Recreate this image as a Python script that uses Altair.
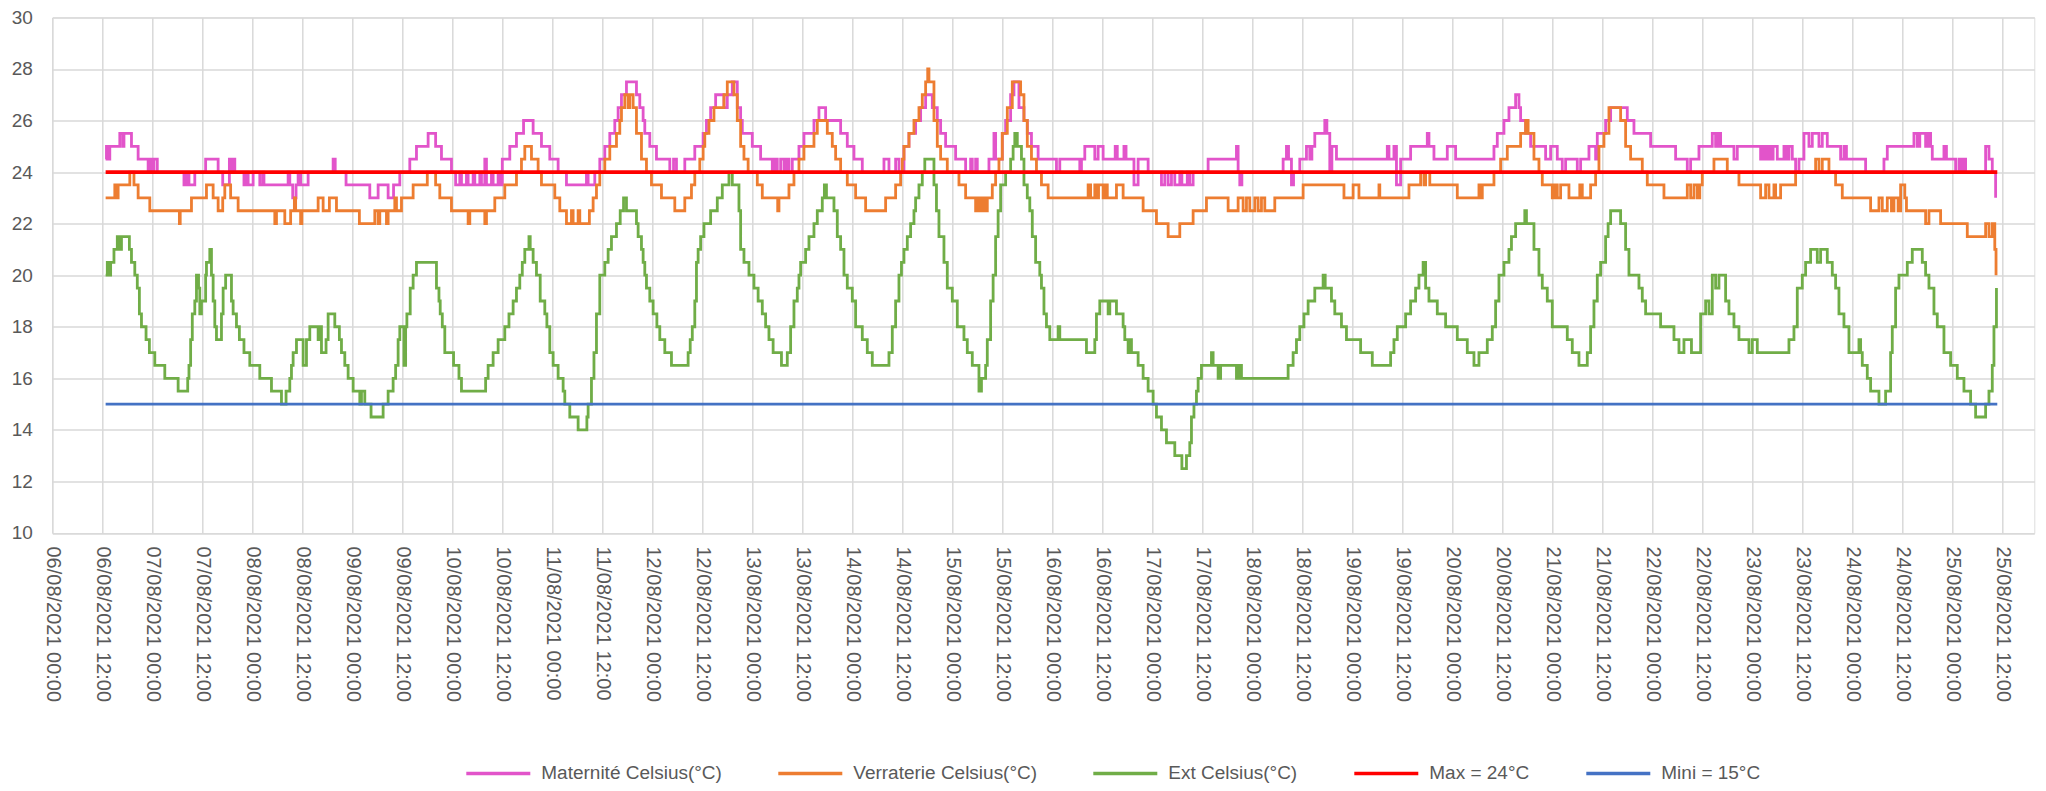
import altair as alt
import pandas as pd

# ---------------- data (hours after 06/08/2021 00:00, temperature °C) ----------------
SERIES = ["Maternité Celsius(°C)", "Verraterie Celsius(°C)", "Ext Celsius(°C)",
          "Max = 24°C", "Mini = 15°C"]
COLORS = ["#E254CA", "#ED7D31", "#70AD47", "#FF0000", "#4472C4"]
WIDTHS = [2.8, 2.8, 2.8, 3.6, 2.8]

MATERNITE = [
    (12.8, 24.5), (13.0, 25), (13.4, 24.5), (13.8, 25), (16.2, 25.5), (16.9, 25), (17.2, 25.5),
    (19.0, 25), (20.6, 24.5), (23.0, 24), (23.4, 24.5), (23.9, 24), (24.4, 24.5), (25.2, 24),
    (31.6, 23.5), (32.2, 24), (32.8, 23.5), (34.2, 24), (36.8, 24.5), (39.8, 24), (40.9, 23.5),
    (42.5, 24.5), (43.0, 24), (43.3, 24.5), (43.8, 24), (46.0, 23.5), (46.5, 24), (47.0, 23.5),
    (48.2, 24), (49.8, 23.5), (50.5, 24), (50.8, 23.5), (56.6, 24), (57.0, 23.5), (57.7, 23),
    (58.5, 23.5), (59.0, 24), (59.6, 23.5), (61.4, 24), (67.4, 24.5), (67.9, 24), (70.5, 23.5),
    (76.2, 23), (78.2, 23.5), (80.6, 23), (81.9, 23.5), (83.4, 24), (85.8, 24.5), (87.4, 25),
    (90.2, 25.5), (92.0, 25), (93.4, 24.5), (95.8, 24), (96.8, 23.5), (97.8, 24), (98.2, 23.5),
    (99.4, 24), (99.8, 23.5), (101.0, 24), (101.4, 23.5), (102.6, 24), (103.0, 23.5), (103.8, 24.5),
    (104.2, 23.5), (105.4, 24), (105.8, 23.5), (107.0, 24), (107.4, 23.5), (108.0, 24.5), (109.8, 25),
    (111.4, 25.5), (113.1, 26), (115.4, 25.5), (117.4, 25), (119.4, 24.5), (121.4, 24), (123.4, 23.5),
    (128.2, 24), (128.6, 23.5), (130.2, 24), (131.4, 24.5), (132.6, 25), (133.8, 25.5), (135.0, 26),
    (135.8, 26.5), (136.6, 27), (137.8, 27.5), (140.2, 27), (141.0, 26.5), (141.8, 26), (142.2, 25.5),
    (143.4, 25), (145.0, 24.5), (148.2, 24), (149.1, 24.5), (149.8, 24), (151.8, 24.5), (154.2, 25),
    (156.2, 25.5), (157.0, 26), (158.0, 26.5), (159.2, 27), (161.2, 26.5), (162.0, 27), (163.2, 27.5),
    (164.4, 26.5), (165.2, 26), (165.6, 25.5), (168.0, 25), (170.0, 24.5), (172.8, 24), (173.4, 24.5),
    (174.0, 24), (174.8, 24.5), (175.6, 24), (176.2, 24.5), (176.8, 24), (177.6, 24.5), (179.2, 25),
    (180.4, 25.5), (182.8, 26), (184.0, 26.5), (185.6, 26), (189.2, 25.5), (190.8, 25), (192.4, 24.5),
    (194.4, 24), (199.6, 24.5), (200.8, 24), (202.4, 24.5), (203.2, 24), (204.4, 25), (205.6, 25.5),
    (207.2, 26), (208.4, 26.5), (209.6, 27), (211.2, 26.5), (212.4, 26), (213.2, 25.5), (214.4, 25),
    (216.8, 24.5), (219.2, 24), (220.4, 24.5), (220.8, 24), (221.6, 24.5), (222.0, 24), (224.8, 24.5),
    (226.0, 25.5), (226.4, 24.5), (228.0, 25.5), (228.8, 26), (230.0, 27), (230.8, 27.5), (232.0, 26.5),
    (233.2, 26), (234.0, 25.5), (235.0, 25), (236.6, 24.5), (241.0, 24), (241.8, 24.5), (246.6, 24),
    (247.0, 24.5), (247.8, 25), (250.2, 24.5), (251.0, 25), (252.2, 24.5), (255.1, 25), (255.6, 24.5),
    (257.2, 25), (257.7, 24.5), (259.6, 23.5), (260.6, 24.5), (263.0, 24), (266.2, 23.5), (267.0, 24),
    (267.8, 23.5), (268.6, 24), (269.4, 23.5), (270.6, 24), (271.1, 23.5), (272.4, 24), (273.0, 23.5),
    (273.8, 24), (277.4, 24.5), (284.2, 25), (284.6, 24), (285.0, 23.5), (285.5, 24), (295.4, 24.5),
    (296.2, 25), (296.7, 24.5), (297.4, 23.5), (297.9, 24), (299.4, 24.5), (301.0, 25), (301.8, 24.5),
    (302.3, 25), (303.0, 25.5), (305.4, 26), (305.9, 25.5), (306.6, 24), (307.1, 25), (308.2, 24.5),
    (320.4, 25), (320.8, 24.5), (322.0, 25), (322.6, 23.5), (323.6, 24.5), (326.0, 25), (330.0, 25.5),
    (330.4, 25), (331.6, 24.5), (334.8, 25), (336.8, 24.5), (346.0, 25), (346.8, 25.5), (348.4, 26),
    (349.6, 26.5), (351.2, 27), (352.0, 26.5), (352.4, 26), (353.6, 25.5), (354.8, 25), (358.4, 24.5),
    (359.6, 25), (361.2, 24.5), (362.4, 24), (363.2, 24.5), (366.0, 24), (366.8, 24.5), (368.8, 25),
    (370.4, 24.5), (370.8, 25.5), (372.8, 26), (374.0, 26.5), (378.0, 26), (379.6, 25.5), (383.6, 25),
    (389.6, 24.5), (392.4, 24), (393.2, 24.5), (395.2, 25), (398.4, 25.5), (399.2, 25), (399.8, 25.5),
    (400.4, 25), (403.6, 24.5), (404.4, 25), (410.0, 24.5), (410.6, 25), (411.2, 24.5), (411.8, 25),
    (412.4, 24.5), (413.0, 25), (414.0, 24.5), (415.6, 25), (416.2, 24.5), (416.8, 25), (417.6, 24.5),
    (418.4, 24), (419.2, 24.5), (420.4, 25.5), (421.6, 25), (422.4, 25.5), (424.0, 25), (424.8, 25.5),
    (426.0, 25), (429.2, 24.5), (430.0, 25), (430.6, 24.5), (435.2, 24), (439.6, 24.5), (440.4, 25),
    (446.8, 25.5), (447.6, 25), (448.2, 25.5), (449.6, 25), (450.2, 25.5), (450.8, 25), (451.2, 24.5),
    (454.0, 25), (454.6, 24.5), (456.8, 24), (457.6, 24.5), (458.2, 24), (458.8, 24.5), (459.2, 24),
    (464.0, 25), (464.8, 24.5), (465.6, 24), (466.4, 23),
]

VERRATERIE = [
    (12.8, 23), (15.0, 23.5), (15.4, 23), (15.8, 23.5), (18.6, 24), (19.6, 23.5), (20.6, 23),
    (23.4, 22.5), (30.5, 22), (30.7, 22.5), (33.4, 23), (37.0, 23.5), (38.6, 23), (39.8, 22.5),
    (40.9, 23), (41.4, 23.5), (42.8, 23), (44.6, 22.5), (53.4, 22), (53.8, 22.5), (55.8, 22),
    (57.2, 22.5), (58.1, 23), (58.4, 22.5), (59.6, 22), (59.9, 22.5), (63.8, 23), (65.0, 22.5),
    (66.5, 23), (68.2, 22.5), (73.7, 22), (77.4, 22.5), (78.2, 22), (78.6, 22.5), (80.2, 22),
    (80.6, 22.5), (82.2, 23), (82.6, 22.5), (83.8, 23), (86.6, 23.5), (90.0, 24), (92.0, 23.5),
    (93.0, 23), (95.8, 22.5), (99.8, 22), (100.2, 22.5), (103.8, 22), (104.2, 22.5), (106.2, 23),
    (108.6, 23.5), (111.4, 24), (112.6, 24.5), (113.4, 25), (115.0, 24.5), (116.6, 24), (117.4, 23.5),
    (120.6, 23), (121.8, 22.5), (123.4, 22), (124.6, 22.5), (125.0, 22), (126.2, 22.5), (126.6, 22),
    (128.9, 22.5), (129.8, 23), (130.6, 23.5), (131.4, 24), (132.6, 24.5), (133.8, 25), (135.4, 25.5),
    (136.2, 26), (136.6, 26.5), (137.4, 27), (138.2, 26.5), (138.6, 27), (139.4, 26.5), (140.2, 25.5),
    (141.4, 24.5), (142.6, 24), (143.8, 23.5), (146.2, 23), (149.4, 22.5), (151.8, 23), (153.4, 23.5),
    (154.2, 24), (155.4, 24.5), (156.2, 25), (156.6, 25.5), (157.6, 26), (158.8, 26.5), (161.2, 27),
    (162.0, 27.5), (163.6, 27), (164.4, 26), (165.2, 25), (166.0, 24.5), (167.0, 24), (169.2, 23.5),
    (170.4, 23), (174.1, 22.5), (174.4, 23), (176.8, 23.5), (178.0, 24), (179.2, 24.5), (180.4, 25),
    (182.8, 25.5), (183.6, 26), (186.0, 25.5), (187.2, 25), (188.0, 24.5), (189.2, 24), (190.8, 23.5),
    (192.8, 23), (195.2, 22.5), (200.0, 23), (202.4, 23.5), (203.6, 24), (204.0, 24.5), (204.4, 25),
    (205.6, 25.5), (206.8, 26), (208.0, 26.5), (208.8, 27), (209.6, 27.5), (210.1, 28), (210.4, 27.5),
    (211.6, 26), (212.4, 25), (213.2, 24.5), (214.8, 24), (217.6, 23.5), (219.2, 23), (221.6, 22.5),
    (222.2, 23), (222.8, 22.5), (223.4, 23), (223.8, 22.5), (224.4, 23), (225.6, 23.5), (226.4, 24),
    (227.2, 24.5), (228.0, 25.5), (229.2, 26.5), (230.4, 27.5), (232.4, 27), (233.2, 26), (234.0, 25),
    (235.0, 24.5), (236.2, 24), (237.4, 23.5), (239.0, 23), (248.6, 23.5), (249.2, 23), (250.2, 23.5),
    (250.6, 23), (251.1, 23.5), (252.2, 23), (252.7, 23.5), (253.2, 23), (255.4, 23.5), (257.0, 23),
    (261.8, 22.5), (265.0, 22), (267.8, 21.5), (270.6, 22), (273.8, 22.5), (277.0, 23), (282.2, 22.5),
    (284.6, 23), (285.8, 22.5), (286.6, 23), (287.4, 22.5), (288.6, 23), (289.4, 22.5), (290.2, 23),
    (291.0, 22.5), (293.4, 23), (300.2, 23.5), (310.0, 23), (312.2, 23.5), (313.6, 23), (318.4, 23.5),
    (318.6, 23), (325.6, 23.5), (328.4, 24), (329.2, 23.5), (329.6, 24), (330.6, 23.5), (337.2, 23),
    (342.4, 23.5), (342.6, 23), (343.2, 23.5), (346.0, 24), (347.6, 24.5), (349.2, 25), (352.4, 25.5),
    (353.6, 26), (354.2, 25.5), (355.6, 24.5), (356.8, 24), (357.6, 23.5), (360.0, 23), (360.6, 23.5),
    (361.2, 23), (362.0, 23.5), (364.0, 23), (366.6, 23.5), (367.2, 23), (369.2, 23.5), (370.4, 24),
    (371.2, 25), (372.4, 25.5), (373.6, 26.5), (376.4, 26), (377.6, 25), (378.8, 24.5), (381.6, 24),
    (382.8, 23.5), (386.8, 23), (392.4, 23.5), (393.2, 23), (394.0, 23.5), (394.8, 23), (395.4, 23.5),
    (396.0, 24), (398.8, 24.5), (402.0, 24), (404.8, 23.5), (410.0, 23), (411.2, 23.5), (412.0, 23),
    (413.2, 23.5), (413.6, 23), (414.8, 23.5), (418.4, 24), (423.2, 24.5), (424.0, 24), (424.8, 24.5),
    (426.4, 24), (428.0, 23.5), (429.6, 23), (436.4, 22.5), (438.4, 23), (439.2, 22.5), (440.4, 23),
    (441.4, 22.5), (442.0, 23), (443.0, 22.5), (443.6, 23.5), (444.6, 23), (445.0, 22.5), (449.6, 22),
    (450.4, 22.5), (453.2, 22), (459.6, 21.5), (464.0, 22), (464.8, 21.5), (465.6, 22), (466.2, 21),
    (466.5, 20),
]

EXT = [
    (12.8, 20), (13.2, 20.5), (13.6, 20), (14.0, 20.5), (14.8, 21), (15.6, 21.5), (16.0, 21),
    (16.6, 21.5), (18.5, 21), (19.0, 20.5), (19.8, 20), (20.4, 19.5), (20.9, 18.5), (21.4, 18),
    (22.5, 17.5), (23.3, 17), (24.6, 16.5), (27.0, 16), (30.2, 15.5), (32.5, 16), (32.8, 16.5),
    (33.2, 17.5), (33.6, 18.5), (34.2, 19), (34.6, 20), (35.1, 19.5), (35.4, 18.5), (35.8, 19),
    (36.8, 20), (37.0, 20.5), (37.8, 21), (38.2, 20), (38.6, 19), (39.0, 18), (39.4, 17.5),
    (40.6, 18.5), (41.0, 19.5), (41.6, 20), (43.0, 19), (43.4, 18.5), (44.2, 18), (44.9, 17.5),
    (46.0, 17), (47.4, 16.5), (49.8, 16), (52.6, 15.5), (55.0, 15), (56.1, 15.5), (57.0, 16),
    (57.4, 16.5), (57.8, 17), (58.6, 17.5), (60.2, 16.5), (61.0, 17.5), (61.8, 18), (63.8, 17.5),
    (64.2, 18), (64.6, 17), (65.7, 17.5), (66.2, 18.5), (67.8, 18), (68.9, 17.5), (69.4, 17),
    (70.2, 16.5), (71.0, 16), (72.2, 15.5), (73.8, 15), (74.2, 15.5), (75.0, 15), (76.5, 14.5),
    (79.4, 15), (80.6, 15.5), (81.8, 16), (82.4, 16.5), (83.0, 17.5), (83.4, 18), (84.4, 16.5),
    (84.8, 18), (85.1, 18.5), (85.9, 19.5), (86.6, 20), (87.4, 20.5), (92.2, 19.5), (92.8, 19),
    (93.1, 18.5), (93.6, 18), (94.2, 17), (96.3, 16.5), (97.6, 16), (98.2, 15.5), (104.0, 16),
    (104.6, 16.5), (105.8, 17), (107.0, 17.5), (108.6, 18), (109.6, 18.5), (110.6, 19), (111.4, 19.5),
    (112.2, 20), (112.8, 20.5), (113.4, 21), (114.4, 21.5), (114.7, 21), (115.4, 20.5), (116.2, 20),
    (117.1, 19), (118.2, 18.5), (118.7, 18), (119.4, 17), (120.2, 16.5), (121.4, 16), (122.6, 15.5),
    (123.0, 15), (124.2, 14.5), (126.2, 14), (128.3, 14.5), (128.6, 15), (129.4, 16), (130.0, 17),
    (130.6, 18.5), (131.4, 20), (132.6, 20.5), (133.4, 21), (134.2, 21.5), (135.4, 22), (136.3, 22.5),
    (137.1, 23), (137.8, 22.5), (140.2, 22), (140.6, 21.5), (141.4, 21), (141.8, 20.5), (142.2, 20),
    (142.6, 19.5), (143.4, 19), (144.2, 18.5), (145.1, 18), (145.8, 17.5), (147.0, 17), (148.6, 16.5),
    (152.6, 17), (153.1, 17.5), (153.6, 18), (154.2, 19), (154.6, 20.5), (155.0, 21), (155.6, 21.5),
    (156.4, 22), (158.0, 22.5), (159.6, 23), (160.8, 23.5), (162.4, 24), (163.2, 23.5), (164.8, 22.5),
    (165.2, 21), (166.0, 20.5), (167.2, 20), (168.4, 19.5), (169.4, 19), (170.4, 18.5), (171.2, 18),
    (172.0, 17.5), (173.0, 17), (175.0, 16.5), (176.4, 17), (177.2, 18), (178.0, 19), (178.8, 19.5),
    (179.2, 20), (179.6, 20.5), (180.8, 21), (181.6, 21.5), (182.8, 22), (183.6, 22.5), (184.8, 23),
    (185.3, 23.5), (185.8, 23), (187.6, 22.5), (188.4, 21.5), (189.2, 21), (190.0, 20), (190.8, 19.5),
    (192.0, 19), (192.8, 18), (194.4, 17.5), (195.6, 17), (196.8, 16.5), (200.8, 17), (201.6, 18),
    (202.4, 19), (203.2, 20), (203.8, 20.5), (204.4, 21), (205.2, 21.5), (206.0, 22), (206.8, 22.5),
    (207.2, 23), (208.0, 23.5), (208.8, 24), (209.4, 24.5), (211.6, 23.5), (212.2, 22.5), (212.8, 21.5),
    (214.0, 20.5), (214.8, 19.5), (216.0, 19), (217.2, 18), (218.8, 17.5), (219.6, 17), (220.8, 16.5),
    (222.4, 15.5), (223.0, 16), (224.0, 16.5), (224.4, 17.5), (225.2, 19), (225.8, 20), (226.4, 21.5),
    (227.0, 22.5), (227.6, 23.5), (228.8, 24), (230.0, 24.5), (230.6, 25), (231.0, 25.5), (231.6, 25),
    (232.6, 24.5), (233.2, 23.5), (234.0, 23), (234.6, 22.5), (235.2, 21.5), (236.0, 20.5), (237.0, 20),
    (237.4, 19.5), (238.0, 18.5), (238.6, 18), (239.4, 17.5), (241.4, 18), (241.8, 17.5), (248.2, 17),
    (250.2, 17.5), (250.6, 18.5), (251.4, 19), (253.4, 18.5), (253.8, 19), (255.4, 18.5), (257.0, 18),
    (257.4, 17.5), (258.2, 17), (258.6, 17.5), (259.0, 17), (260.6, 16.5), (261.8, 16), (263.0, 15.5),
    (264.2, 15), (265.0, 14.5), (266.2, 14), (267.4, 13.5), (269.4, 13), (271.1, 12.5), (272.2, 13),
    (273.0, 13.5), (273.4, 14.5), (274.0, 15), (274.6, 15.5), (275.0, 16), (275.8, 16.5), (278.2, 17),
    (278.6, 16.5), (279.8, 16), (280.4, 16.5), (284.2, 16), (284.8, 16.5), (285.4, 16), (296.6, 16.5),
    (297.8, 17), (298.6, 17.5), (299.4, 18), (300.4, 18.5), (301.4, 19), (303.0, 19.5), (305.0, 20),
    (305.5, 19.5), (307.0, 19), (307.8, 18.5), (309.4, 18), (310.6, 17.5), (314.0, 17), (316.8, 16.5),
    (321.2, 17), (322.0, 17.5), (322.8, 18), (324.8, 18.5), (326.0, 19), (327.2, 19.5), (328.0, 20),
    (329.0, 20.5), (329.6, 19.5), (330.4, 19), (332.4, 18.5), (334.4, 18), (337.2, 17.5), (339.6, 17),
    (341.2, 16.5), (342.4, 17), (344.4, 17.5), (345.6, 18), (346.4, 19), (347.2, 20), (348.4, 20.5),
    (349.6, 21), (350.2, 21.5), (351.2, 22), (353.4, 22.5), (353.8, 22), (355.6, 21), (356.8, 20),
    (357.6, 19.5), (358.8, 19), (360.0, 18), (363.6, 17.5), (364.8, 17), (366.4, 16.5), (368.4, 17),
    (369.2, 18), (370.0, 19), (370.8, 20), (371.6, 20.5), (372.8, 21.5), (373.4, 22), (374.0, 22.5),
    (376.4, 22), (377.6, 21), (378.4, 20), (380.8, 19.5), (381.6, 19), (382.4, 18.5), (386.0, 18),
    (389.2, 17.5), (390.4, 17), (391.6, 17.5), (393.4, 17), (395.6, 18.5), (396.8, 19), (397.6, 18.5),
    (398.4, 20), (399.2, 19.5), (400.0, 20), (401.6, 19), (402.4, 18.5), (403.6, 18), (404.8, 17.5),
    (407.2, 17), (408.0, 17.5), (409.2, 17), (416.8, 17.5), (418.0, 18), (418.8, 19.5), (420.0, 20),
    (420.8, 20.5), (422.0, 21), (423.6, 20.5), (424.4, 21), (426.0, 20.5), (427.2, 20), (428.0, 19.5),
    (428.8, 18.5), (430.0, 18), (431.2, 17), (433.6, 17.5), (434.0, 17), (434.4, 16.5), (435.6, 16),
    (436.4, 15.5), (438.4, 15), (440.0, 15.5), (441.2, 17), (441.6, 18), (442.4, 19.5), (443.2, 20),
    (445.2, 20.5), (446.4, 21), (448.8, 20.5), (449.6, 20), (450.4, 19.5), (451.6, 18.5), (452.4, 18),
    (454.0, 17), (455.6, 16.5), (457.2, 16), (458.8, 15.5), (460.4, 15), (461.6, 14.5), (464.0, 15),
    (464.8, 15.5), (465.6, 16.5), (466.0, 18), (466.6, 19.5),
]

MAX_LINE = [(12.8, 24), (466.8, 24)]
MINI_LINE = [(12.8, 15), (466.8, 15)]

Y_TICKS = [10, 12, 14, 16, 18, 20, 22, 24, 26, 28, 30]
TICK_DAYS = list(range(6, 26))          # 06/08 .. 25/08, labels at 00:00 and 12:00
TICK_HOURS = [0, 12]

# ---------------- build table ----------------
START = pd.Timestamp("2021-08-06 00:00:00")
rows = []
for name, pts in zip(SERIES, [MATERNITE, VERRATERIE, EXT, MAX_LINE, MINI_LINE]):
    for h, v in pts:
        t = START + pd.Timedelta(hours=h)
        rows.append({"series": name, "time": t.strftime("%Y-%m-%dT%H:%M:%S"), "temp": v})
df = pd.DataFrame(rows)

tick_values = [alt.DateTime(year=2021, month=8, date=d, hours=hh)
               for d in TICK_DAYS for hh in TICK_HOURS]

FONT = "Liberation Sans"
TXT = "#595959"
GRID = "#D9D9D9"

x_enc = alt.X(
    "time:T",
    title=None,
    scale=alt.Scale(domain=[alt.DateTime(year=2021, month=8, date=6, hours=0),
                            alt.DateTime(year=2021, month=8, date=25, hours=19, minutes=41)]),
    axis=alt.Axis(values=tick_values, format="%d/%m/%Y %H:%M", labelAngle=90,
                  labelAlign="left", labelBaseline="middle", labelPadding=13,
                  ticks=False, tickSize=0, domain=False, grid=True, gridColor=GRID,
                  gridWidth=1.5, labelFont=FONT, labelFontSize=20, labelColor=TXT,
                  labelOverlap=False, labelFlush=False),
)
y_enc = alt.Y(
    "temp:Q",
    title=None,
    scale=alt.Scale(domain=[10, 30], nice=False, zero=False),
    axis=alt.Axis(values=Y_TICKS, ticks=False, tickSize=0, domain=False, grid=True,
                  gridColor=GRID, gridWidth=1.5, labelFont=FONT, labelFontSize=19,
                  labelColor=TXT, labelPadding=20),
)
c_enc = alt.Color(
    "series:N",
    title=None,
    scale=alt.Scale(domain=SERIES, range=COLORS),
    legend=alt.Legend(orient="none", legendX=412, legendY=722, direction="horizontal",
                      symbolType="stroke", symbolSize=4096, symbolStrokeWidth=3.5,
                      labelFont=FONT, labelFontSize=19, labelColor=TXT, labelLimit=0,
                      labelOffset=9, columnPadding=49, padding=0),
)

base = alt.Chart(df).encode(x=x_enc, y=y_enc, color=c_enc)
layers = [
    base.transform_filter(alt.datum.series == s).mark_line(interpolate="step-after", strokeWidth=w)
    for s, w in zip(SERIES, WIDTHS)
]

chart = alt.layer(*layers).properties(
    width=1982,
    height=515.6,
    autosize=alt.AutoSizeParams(type="none"),
    padding={"left": 44.3, "top": 9.4, "right": 2, "bottom": 250},
).configure_view(strokeWidth=0).configure(background="white")

chart.save("out.html", embed_options={"renderer": "svg", "actions": False})
